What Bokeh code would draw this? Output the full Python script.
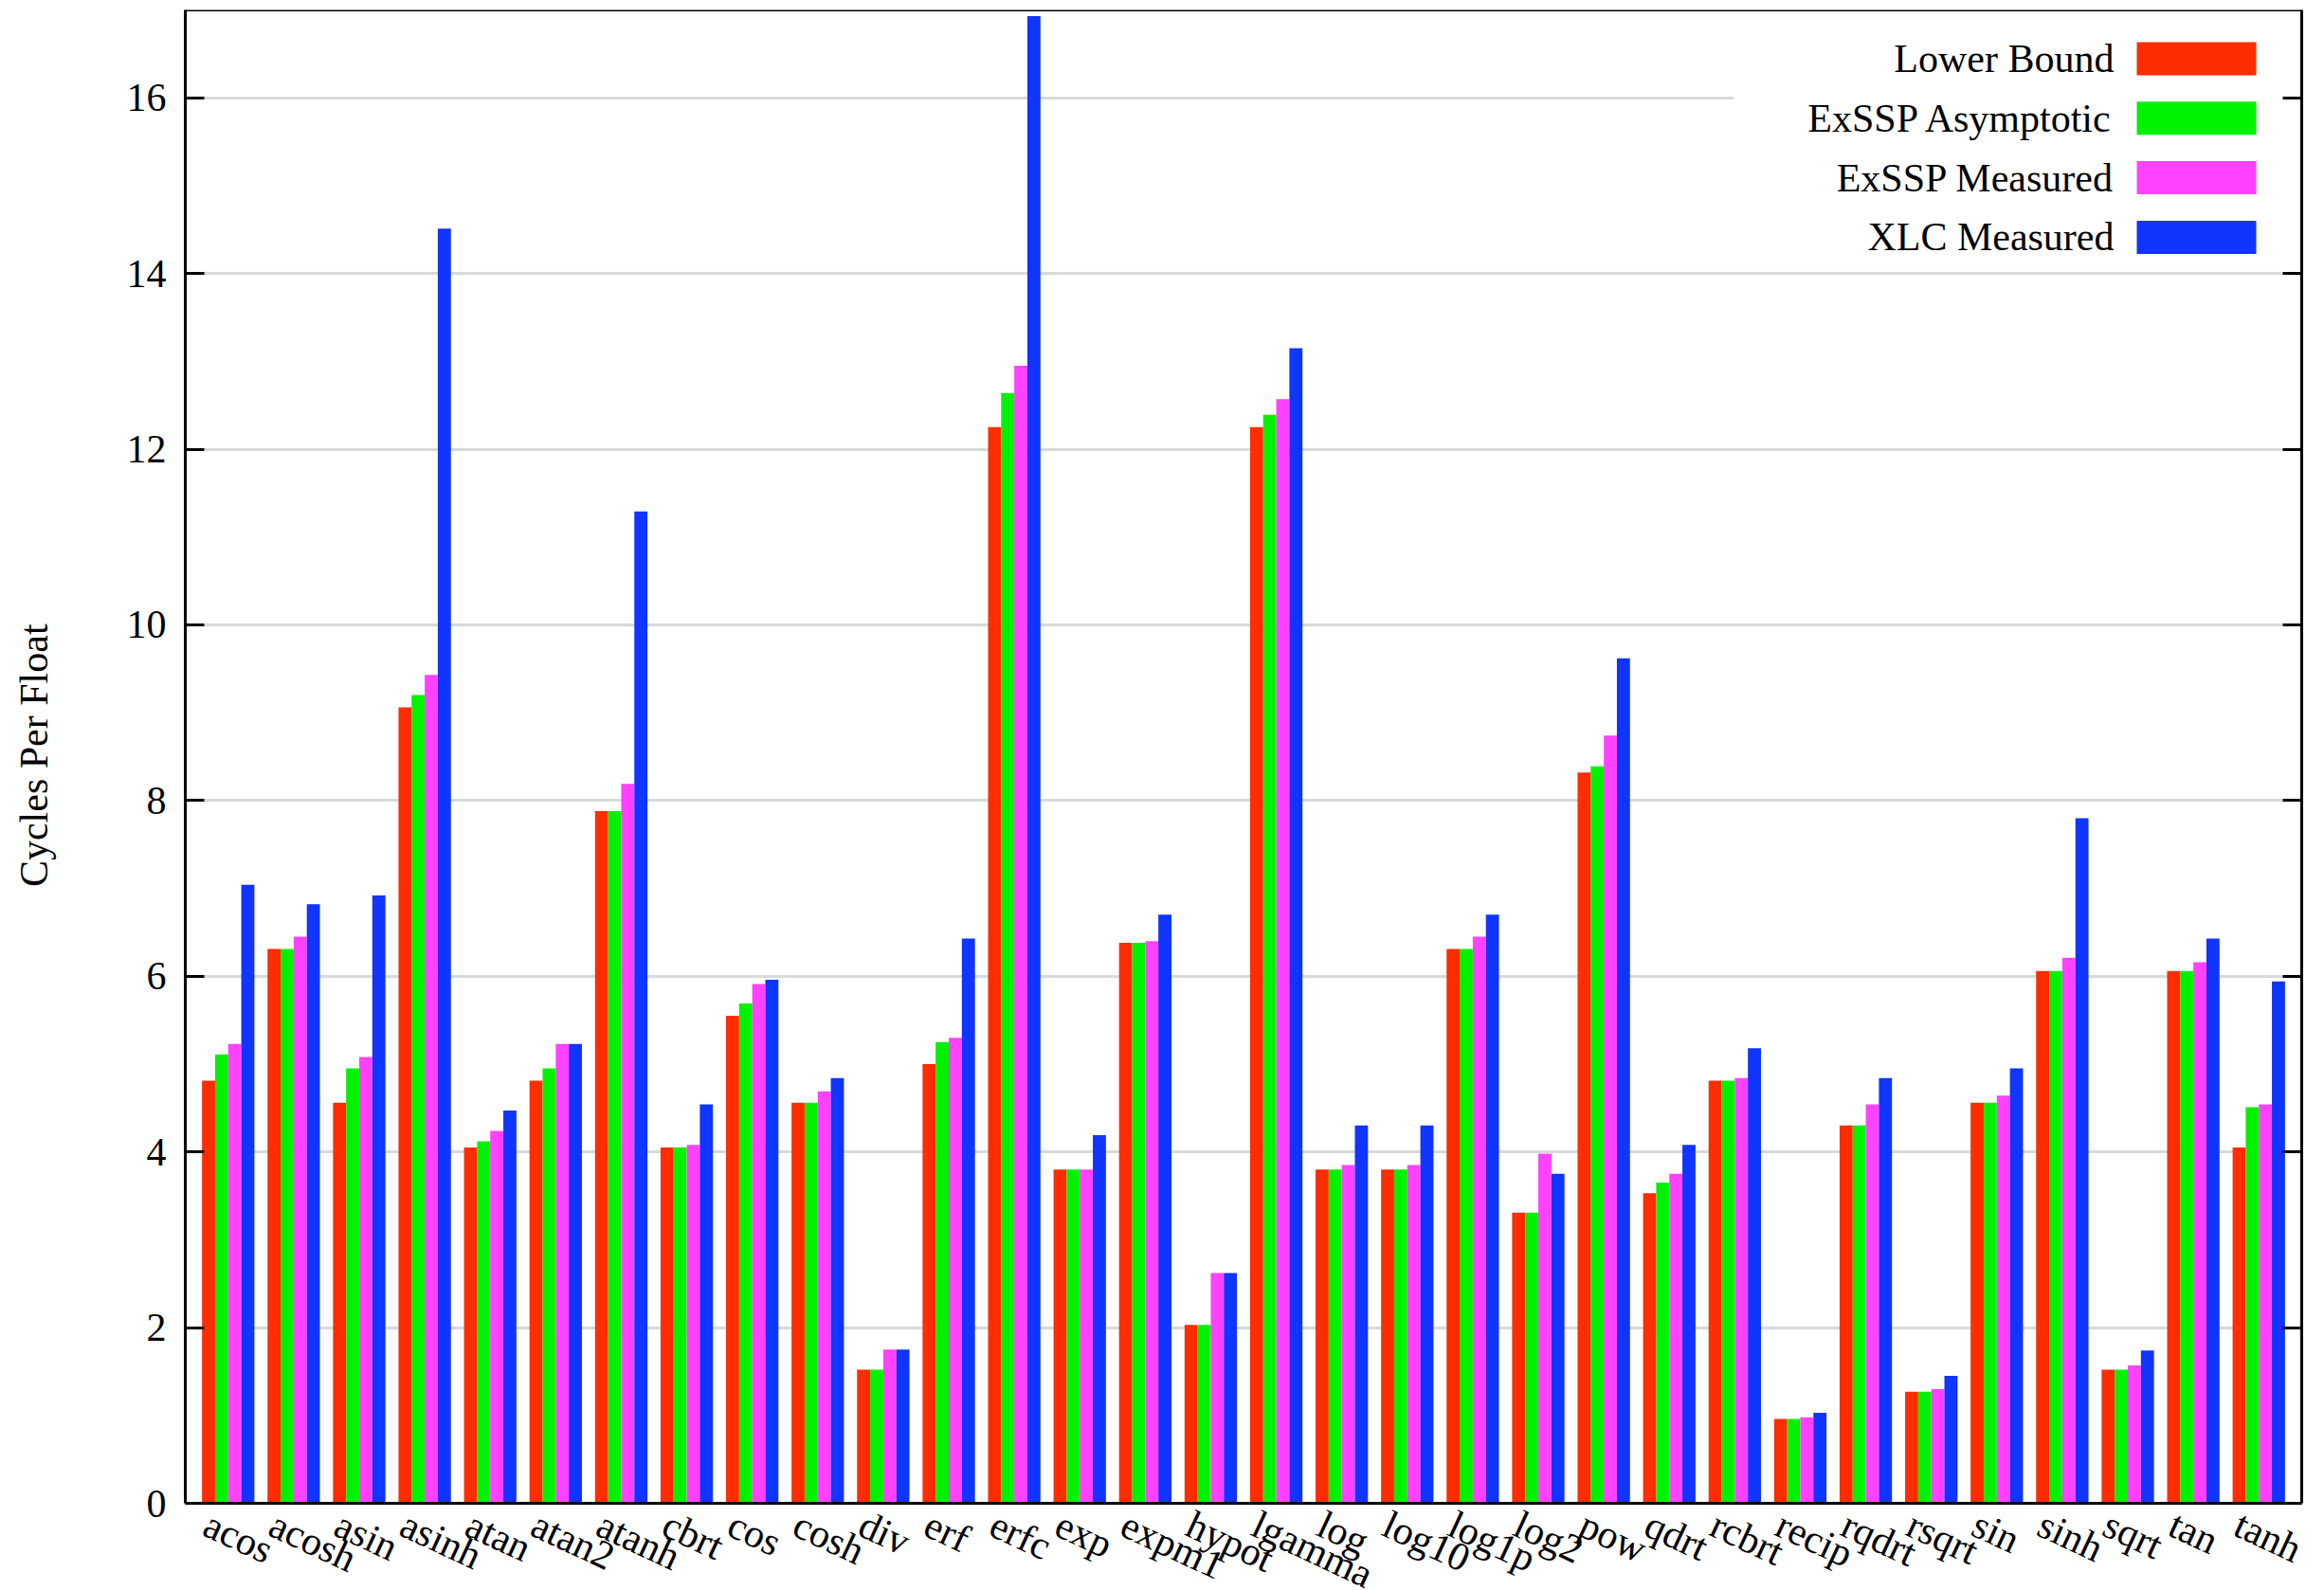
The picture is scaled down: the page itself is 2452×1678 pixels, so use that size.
import math
from bokeh.plotting import figure
from bokeh.models import (ColumnDataSource, FactorRange, Range1d, Label, LabelSet, Span,
                          BoxAnnotation, LinearAxis, FixedTicker, CustomLabelingPolicy)
from bokeh.transform import dodge
from bokeh.embed import file_html
from bokeh.resources import INLINE

# ---------------- data ----------------
functions = ["acos", "acosh", "asin", "asinh", "atan", "atan2", "atanh", "cbrt", "cos",
             "cosh", "div", "erf", "erfc", "exp", "expm1", "hypot", "lgamma", "log",
             "log10", "log1p", "log2", "pow", "qdrt", "rcbrt", "recip", "rqdrt", "rsqrt",
             "sin", "sinh", "sqrt", "tan", "tanh"]

lower_bound = [4.81, 6.31, 4.56, 9.06, 4.05, 4.81, 7.88, 4.05, 5.55,
               4.56, 1.52, 5.00, 12.25, 3.80, 6.38, 2.03, 12.25, 3.80,
               3.80, 6.31, 3.31, 8.32, 3.53, 4.81, 0.96, 4.30, 1.27,
               4.56, 6.06, 1.52, 6.06, 4.05]
exssp_asymptotic = [5.11, 6.31, 4.95, 9.20, 4.12, 4.95, 7.88, 4.05, 5.69,
                    4.56, 1.52, 5.25, 12.64, 3.80, 6.38, 2.03, 12.39, 3.80,
                    3.80, 6.31, 3.31, 8.39, 3.65, 4.81, 0.96, 4.30, 1.27,
                    4.56, 6.06, 1.52, 6.06, 4.51]
exssp_measured = [5.23, 6.45, 5.08, 9.43, 4.24, 5.23, 8.19, 4.08, 5.91,
                  4.69, 1.75, 5.30, 12.95, 3.80, 6.40, 2.62, 12.57, 3.85,
                  3.85, 6.45, 3.98, 8.74, 3.75, 4.84, 0.98, 4.54, 1.30,
                  4.64, 6.21, 1.57, 6.16, 4.54]
xlc_measured = [7.04, 6.82, 6.92, 14.51, 4.47, 5.23, 11.29, 4.54, 5.96,
                4.84, 1.75, 6.43, 16.93, 4.19, 6.70, 2.62, 13.15, 4.30,
                4.30, 6.70, 3.75, 9.62, 4.08, 5.18, 1.03, 4.84, 1.45,
                4.95, 7.80, 1.74, 6.43, 5.94]

series_names = ["Lower Bound", "ExSSP Asymptotic", "ExSSP Measured", "XLC Measured"]
series_keys = ["lower_bound", "exssp_asymptotic", "exssp_measured", "xlc_measured"]
y_ticks = [0, 2, 4, 6, 8, 10, 12, 14, 16]
y_max = 17
y_label = "Cycles Per Float"

# ---------------- style ----------------
colors = ["#ff2d00", "#00f200", "#ff42ff", "#0f35ff"]
offsets = [-0.3, -0.1, 0.1, 0.3]
FONT = "Liberation Serif"
FS = "42px"
PAD = 0.155          # factor-range padding on each side

W, H = 2440, 1678
BL, BR, BT, BB = 195, 12, 10, 0
AXIS_PX = 1576       # pixel height of the 0..17 box
LABEL_PX = 92        # room under the box (inside the frame) for category labels
y_start = -y_max * LABEL_PX / AXIS_PX
# the axis title is centred on the whole frame; pad its start so the visible
# words sit centred on the 0..17 box as in the reference
LABEL_LIFT = "\u00a0" * 9

x_range = FactorRange(factors=functions, range_padding=PAD, range_padding_units="absolute")

p = figure(width=W, height=H, x_range=x_range, y_range=Range1d(y_start, y_max),
           output_backend="svg", toolbar_location=None,
           min_border_left=BL, min_border_right=BR,
           min_border_top=BT, min_border_bottom=BB)
p.background_fill_color = "white"
p.border_fill_color = "white"
p.outline_line_color = None

src = ColumnDataSource(dict(fn=functions, lower_bound=lower_bound,
                            exssp_asymptotic=exssp_asymptotic,
                            exssp_measured=exssp_measured,
                            xlc_measured=xlc_measured))

for key, off, col in zip(series_keys, offsets, colors):
    p.vbar(x=dodge("fn", off, range=x_range), top=key, width=0.2, bottom=0,
           source=src, fill_color=col, line_color=None)

# grid
p.xgrid.grid_line_color = None
p.ygrid.grid_line_color = "#d9d9d9"
p.ygrid.grid_line_width = 3

# y axis (line limited to the 0..17 box)
p.yaxis.ticker = FixedTicker(ticks=y_ticks)
p.yaxis.bounds = (0, y_max)
p.yaxis.major_tick_in = 20
p.yaxis.major_tick_out = 0
p.yaxis.minor_tick_line_color = None
p.yaxis.major_tick_line_width = 3
p.yaxis.axis_line_width = 3
p.yaxis.major_label_text_font = FONT
p.yaxis.major_label_text_font_size = FS
p.yaxis.major_label_text_color = "black"
p.yaxis.major_label_standoff = 20
p.yaxis.axis_label = LABEL_LIFT + y_label
p.yaxis.axis_label_text_font = FONT
p.yaxis.axis_label_text_font_size = FS
p.yaxis.axis_label_text_font_style = "normal"
p.yaxis.axis_label_text_color = "black"
p.yaxis.axis_label_standoff = 72

# mirrored right ticks (no labels)
no_labels = CustomLabelingPolicy(code="""
try { for (let i = 0; i < indices.size; i++) { indices.unset(i) } } catch (e) {}
return indices
""")
ra = LinearAxis(ticker=FixedTicker(ticks=y_ticks), bounds=(0, y_max),
                major_tick_in=20, major_tick_out=0,
                major_tick_line_width=3, axis_line_width=3,
                minor_tick_line_color=None, major_label_standoff=0,
                major_label_text_font_size="0px", major_label_text_color="white",
                major_label_policy=no_labels)
p.add_layout(ra, "right")

# bottom and top edges of the box
p.xaxis.visible = False
p.add_layout(Span(location=0, dimension="width", line_color="black", line_width=3))
p.add_layout(Span(location=y_max, dimension="width", line_color="black", line_width=3))

# category labels, rotated, just under the box
xl = LabelSet(x="fn", y=0, text="fn", source=src, x_offset=-23, y_offset=-20,
              angle=-25, angle_units="deg", text_align="left", text_baseline="middle",
              text_font=FONT, text_font_size=FS, text_color="black")
p.add_layout(xl)

# legend (text to the left of the swatch, as in the reference)
frame_w = W - BL - BR
frame_h = H - BT - BB
bg = BoxAnnotation(left=1634, right=frame_w - 3, top=frame_h - 3, bottom=frame_h - 271,
                   left_units="screen", right_units="screen", top_units="screen",
                   bottom_units="screen", fill_color="white", fill_alpha=1.0,
                   line_alpha=0, level="underlay")
p.add_layout(bg)
first_center = frame_h - 51.5
pitch = 62.8
for i, (name, col) in enumerate(zip(series_names, colors)):
    cy = first_center - i * pitch
    p.add_layout(BoxAnnotation(left=2059, right=2185, top=cy + 17.5, bottom=cy - 17.5,
                               left_units="screen", right_units="screen",
                               top_units="screen", bottom_units="screen",
                               fill_color=col, fill_alpha=1.0, line_alpha=0))
    p.add_layout(Label(x=2035, y=cy, x_units="screen", y_units="screen", text=name,
                       text_align="right", text_baseline="middle", text_font=FONT,
                       text_font_size=FS, text_color="black"))

open("out.html", "w").write(file_html(p, INLINE))
